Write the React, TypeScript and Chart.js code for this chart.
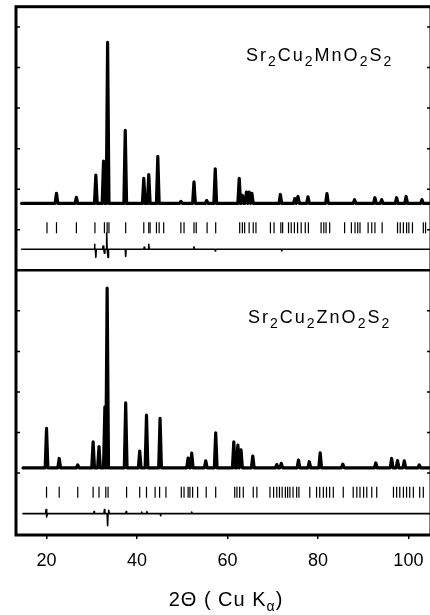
import React, { useEffect, useRef } from "react";
import { Chart, registerables } from "chart.js";

Chart.register(...registerables);

// ---- Data (2θ in degrees, intensities in arbitrary units) ----
const xTickValues = [20, 40, 60, 80, 100];
const yTickValues = [1, 2, 3, 4, 5, 6, 7, 8, 9, 10, 11, 12];

// Sr2Cu2MnO2S2 – observed peaks (position, height above background)
const mnPeakPos = [22.2, 26.6, 30.9, 32.6, 33.5, 37.4, 41.5, 42.6, 44.6, 49.7, 52.6, 55.4, 57.3, 62.6, 63.3, 64.2, 64.8, 65.4, 71.7, 74.9, 75.6, 77.8, 82.0, 88.1, 92.6, 94.1, 97.4, 99.5, 103.0];
const mnPeakInt = [0.25, 0.15, 0.70, 1.04, 3.97, 1.80, 0.62, 0.71, 1.16, 0.05, 0.53, 0.07, 0.85, 0.62, 0.20, 0.28, 0.28, 0.25, 0.22, 0.12, 0.17, 0.16, 0.24, 0.09, 0.14, 0.09, 0.14, 0.17, 0.09];
const mnBraggPos = [20.1, 22.2, 26.6, 30.7, 32.8, 33.4, 33.8, 37.5, 41.5, 42.6, 42.9, 44.3, 44.9, 45.9, 49.7, 50.4, 52.6, 53.1, 55.5, 57.4, 62.7, 63.3, 63.8, 64.8, 65.7, 66.3, 69.5, 70.3, 71.8, 72.2, 73.5, 74.1, 74.8, 75.5, 76.3, 77.2, 77.9, 80.7, 81.3, 81.8, 82.6, 85.9, 87.4, 88.2, 88.8, 89.3, 91.1, 91.9, 92.6, 94.2, 97.6, 98.2, 98.9, 99.6, 100.1, 100.9, 103.3, 103.8];
const mnDiffPos = [30.6, 30.9, 32.5, 32.8, 33.3, 33.6, 37.5, 41.6, 42.6, 52.6, 57.3, 72.0];
const mnDiffVal = [0.12, -0.2, 0.08, -0.1, 0.4, -0.2, -0.18, 0.05, 0.12, 0.06, -0.04, -0.04];

// Sr2Cu2ZnO2S2
const znPeakPos = [20.0, 22.8, 26.9, 30.3, 31.6, 32.9, 33.4, 37.5, 40.6, 42.1, 45.1, 51.3, 52.1, 55.2, 57.4, 61.4, 62.3, 63.0, 65.6, 70.9, 71.9, 75.7, 78.1, 80.5, 85.5, 92.8, 96.3, 97.6, 99.1, 102.4];
const znPeakInt = [0.97, 0.23, 0.07, 0.64, 0.52, 1.5, 4.43, 1.60, 0.41, 1.30, 1.22, 0.24, 0.36, 0.17, 0.86, 0.64, 0.56, 0.44, 0.29, 0.08, 0.11, 0.19, 0.15, 0.37, 0.09, 0.12, 0.23, 0.18, 0.17, 0.07];
const znBraggPos = [20.0, 22.8, 26.9, 30.3, 31.6, 33.1, 33.6, 37.7, 40.6, 42.1, 44.0, 45.0, 46.4, 49.8, 50.4, 51.3, 51.7, 52.3, 53.4, 55.3, 57.4, 61.6, 62.1, 62.7, 63.5, 65.7, 66.5, 69.4, 70.2, 70.9, 71.5, 72.1, 72.8, 73.3, 73.8, 74.5, 75.3, 75.8, 78.2, 79.7, 80.4, 81.2, 81.9, 82.6, 83.4, 85.6, 87.8, 88.6, 89.3, 90.1, 90.8, 91.9, 93.0, 96.7, 97.4, 98.1, 98.9, 99.6, 100.3, 101.1, 102.5, 103.3];
const znDiffPos = [19.9, 20.1, 30.5, 32.8, 33.5, 33.8, 37.6, 41.0, 42.2, 45.2, 52.1];
const znDiffVal = [0.1, -0.08, 0.05, 0.1, -0.3, 0.08, 0.05, 0.04, 0.05, -0.05, 0.04];

// ---- layout constants (vertical stacking of the two panels) ----
const X_MIN = 13.25;
const X_MAX = 105;
const Y_MIN = -0.527;
const Y_MAX = 12.5;
const PANEL_SPLIT = 6;
const MN_BASE = 7.65, MN_BRAGG = 7.05, MN_DIFF = 6.52;
const ZN_BASE = 1.13, ZN_BRAGG = 0.53, ZN_DIFF = 0.0;

function buildProfile(pos: number[], vals: number[], base: number, w: number, start: number, end: number) {
  const idx = pos.map((_, i) => i).sort((a, b) => pos[a] - pos[b]);
  const pts: { x: number; y: number }[] = [{ x: start, y: base }];
  idx.forEach((i) => {
    pts.push({ x: pos[i] - w, y: base });
    pts.push({ x: pos[i], y: base + vals[i] });
    pts.push({ x: pos[i] + w, y: base });
  });
  pts.push({ x: end, y: base });
  return pts;
}

function bragg(pos: number[], y: number) {
  return pos.map((p) => ({ x: p, y }));
}

const framePlugin = {
  id: "frame",
  afterDraw(chart: any) {
    const { ctx, chartArea, scales } = chart;
    const { left, right, top, bottom } = chartArea;
    const y = scales.y;
    ctx.save();
    ctx.strokeStyle = "#000";
    ctx.lineWidth = 3;
    ctx.strokeRect(left, top, right - left, bottom - top);
    const ys = y.getPixelForValue(PANEL_SPLIT);
    ctx.lineWidth = 2.5;
    ctx.beginPath();
    ctx.moveTo(left, ys);
    ctx.lineTo(right, ys);
    ctx.stroke();
    ctx.lineWidth = 1.5;
    yTickValues.forEach((v) => {
      const py = y.getPixelForValue(v);
      ctx.beginPath();
      ctx.moveTo(left, py);
      ctx.lineTo(left + 4, py);
      ctx.moveTo(right, py);
      ctx.lineTo(right - 4, py);
      ctx.stroke();
    });
    ctx.restore();
  },
};

const FONT = "'Liberation Sans', Arial, Helvetica, sans-serif";

function Formula({ parts, left, top }: { parts: [string, boolean][]; left: number; top: number }) {
  return (
    <div
      style={{
        position: "absolute",
        left,
        top,
        fontFamily: FONT,
        fontSize: 18,
        lineHeight: "20px",
        letterSpacing: "2px",
        color: "#000",
        whiteSpace: "nowrap",
      }}
    >
      {parts.map(([t, sub], i) =>
        sub ? (
          <span key={i} style={{ fontSize: 14, position: "relative", top: 5 }}>
            {t}
          </span>
        ) : (
          <span key={i}>{t}</span>
        )
      )}
    </div>
  );
}

export default function App() {
  const ref = useRef<HTMLCanvasElement | null>(null);

  useEffect(() => {
    if (!ref.current) return;
    const lineDs = (data: any[], width: number) => ({
      type: "line" as const,
      data,
      showLine: true,
      borderColor: "#000",
      backgroundColor: "#000",
      borderWidth: width,
      pointRadius: 0,
      borderJoinStyle: "round" as const,
      borderCapStyle: "round" as const,
      tension: 0,
    });
    const tickDs = (data: any[]) => ({
      type: "scatter" as const,
      data,
      pointStyle: "line" as const,
      rotation: 90,
      pointRadius: 5.5,
      borderColor: "#000",
      borderWidth: 1.2,
      showLine: false,
    });
    const chart = new Chart(ref.current, {
      type: "scatter",
      data: {
        datasets: [
          lineDs(buildProfile(mnPeakPos, mnPeakInt, MN_BASE, 0.3, 14.5, X_MAX), 3.2),
          tickDs(bragg(mnBraggPos, MN_BRAGG)),
          lineDs(buildProfile(mnDiffPos, mnDiffVal, MN_DIFF, 0.1, 14.5, X_MAX), 1.6),
          lineDs(buildProfile(znPeakPos, znPeakInt, ZN_BASE, 0.3, 14.8, X_MAX), 3.2),
          tickDs(bragg(znBraggPos, ZN_BRAGG)),
          lineDs(buildProfile(znDiffPos, znDiffVal, ZN_DIFF, 0.1, 14.8, X_MAX), 1.6),
        ] as any,
      },
      options: {
        animation: false,
        responsive: false,
        devicePixelRatio: 1,
        layout: { padding: { left: 16, right: 14, top: 6, bottom: 0 } },
        plugins: { legend: { display: false }, tooltip: { enabled: false } },
        scales: {
          x: {
            type: "linear",
            min: X_MIN,
            max: X_MAX,
            afterBuildTicks: (scale: any) => {
              scale.ticks = xTickValues.map((v) => ({ value: v }));
            },
            afterFit: (scale: any) => {
              scale.height = 80;
            },
            grid: { drawOnChartArea: false, drawTicks: true, tickLength: 4, color: "#000", lineWidth: 1.5 },
            border: { display: false },
            ticks: { color: "#000", padding: 11, font: { family: FONT, size: 18 } },
          },
          y: {
            type: "linear",
            display: false,
            min: Y_MIN,
            max: Y_MAX,
          },
        },
      } as any,
      plugins: [framePlugin],
    });
    return () => chart.destroy();
  }, []);

  return (
    <div style={{ position: "absolute", left: 0, top: 0, width: 430, height: 615, overflow: "hidden", background: "#fff" }}>
      <canvas ref={ref} width={445} height={615} style={{ display: "block" }} />
      <Formula
        left={246}
        top={45}
        parts={[["Sr", false], ["2", true], ["Cu", false], ["2", true], ["MnO", false], ["2", true], ["S", false], ["2", true]]}
      />
      <Formula
        left={248}
        top={307}
        parts={[["Sr", false], ["2", true], ["Cu", false], ["2", true], ["ZnO", false], ["2", true], ["S", false], ["2", true]]}
      />
      <div
        style={{
          position: "absolute",
          left: 0,
          width: 452,
          top: 588,
          textAlign: "center",
          fontFamily: FONT,
          fontSize: 20,
          lineHeight: "22px",
          letterSpacing: "1px",
          whiteSpace: "pre",
          color: "#000",
        }}
      >
        2Θ ( Cu K<span style={{ fontSize: 14, position: "relative", top: 5 }}>α</span>)
      </div>
    </div>
  );
}
